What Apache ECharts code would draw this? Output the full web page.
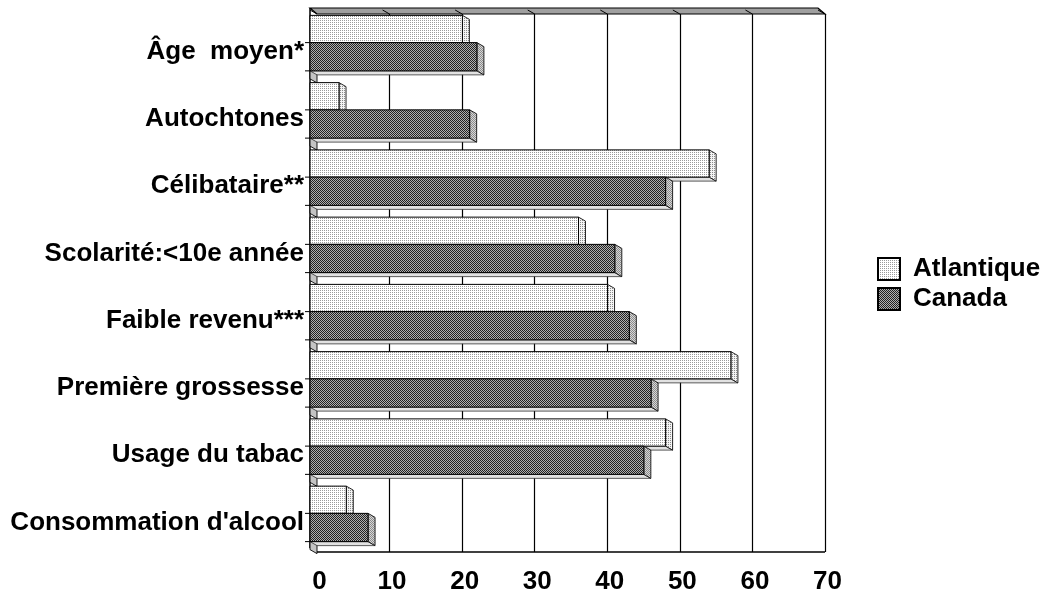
<!DOCTYPE html>
<html>
<head>
<meta charset="utf-8">
<script src="https://cdn.jsdelivr.net/npm/echarts@6/dist/echarts.min.js"></script>
<style>
html,body{margin:0;padding:0;background:#fff;}
#c{width:1042px;height:601px;}
</style>
</head>
<body>
<div id="c"></div>
<script>
// ---- data ----
const categories = ['Âge  moyen*', 'Autochtones', 'Célibataire**', 'Scolarité:<10e année', 'Faible revenu***', 'Première grossesse', 'Usage du tabac', "Consommation d'alcool"];
const atlantique = [21, 4, 55, 37, 41, 58, 49, 5];
const canada = [23, 22, 49, 42, 44, 47, 46, 8];
const seriesNames = ['Atlantique', 'Canada'];
const xMin = 0, xMax = 70, xStep = 10;

// ---- styles ----
const DX = 7, DY = 4;
const FONT = 'Liberation Sans, Arial, sans-serif';
function pattern(w, h, pix, bg) {
  const cv = document.createElement('canvas');
  cv.width = w; cv.height = h;
  const g = cv.getContext('2d');
  g.fillStyle = bg; g.fillRect(0, 0, w, h);
  pix.forEach(p => { g.fillStyle = p[2]; g.fillRect(p[0], p[1], 1, 1); });
  return { image: cv, repeat: 'repeat' };
}
const patAtl = pattern(2, 2, [[0, 0, '#9a9a9a']], '#ffffff');
const patAtlSide = pattern(2, 2, [[0, 0, '#8a8a8a']], '#f4f4f4');
const patCan = pattern(2, 2, [[0, 0, '#222222'], [1, 1, '#222222']], '#b0b0b0');
const patCanSide = pattern(2, 2, [[0, 0, '#8a8a8a'], [1, 1, '#8a8a8a']], '#d8d8d8');

function barRender(kind) {
  const front = kind === 0 ? patAtl : patCan;
  const side = kind === 0 ? patAtlSide : patCanSide;
  return function (params, api) {
    const v = api.value(0), ci = api.value(1);
    const c = api.coord([xMin, ci]);
    const e = api.coord([v, ci]);
    const h = api.size([0, 1])[1];
    const ft = c[1] - h / 2 - DY;
    const yt = ft + h * (kind === 0 ? 0.08 : 0.485);
    const yb = ft + h * (kind === 0 ? 0.485 : 0.905);
    const x0 = c[0] - DX, xe = e[0] - DX;
    return {
      type: 'group',
      children: [
        { type: 'polygon', shape: { points: [[x0, yb], [xe, yb], [xe + DX, yb + DY], [x0 + DX, yb + DY]] },
          style: { fill: '#e2e2e2', stroke: '#333', lineWidth: 0.8 } },
        { type: 'polygon', shape: { points: [[xe, yt], [xe + DX, yt + DY], [xe + DX, yb + DY], [xe, yb]] },
          style: { fill: side, stroke: '#111', lineWidth: 0.9 } },
        { type: 'rect', shape: { x: x0, y: yt, width: xe - x0, height: yb - yt },
          style: { fill: front, stroke: '#000', lineWidth: 1 } }
      ]
    };
  };
}

function frameRender(params, api) {
  const p0 = api.coord([xMin, 0]);
  const L = p0[0];
  const R = api.coord([xMax, 0])[0];
  const h = api.size([0, 1])[1];
  const T = p0[1] - h / 2;
  const B = T + h * categories.length;
  const ch = [];
  // top rim
  ch.push({ type: 'polygon', shape: { points: [[L - DX, T - 6], [R - DX, T - 6], [R, T], [L, T]] },
    style: { fill: '#a0a0a0', stroke: '#000', lineWidth: 1.2 } });
  for (let v = xMin; v <= xMax; v += xStep) {
    const x = api.coord([v, 0])[0];
    ch.push({ type: 'line', shape: { x1: x - DX, y1: T - 4, x2: x, y2: T }, style: { stroke: '#000', lineWidth: 1 } });
  }
  // floor line
  ch.push({ type: 'line', shape: { x1: L, y1: B, x2: R, y2: B }, style: { stroke: '#000', lineWidth: 1.5 } });
  // left front edge
  ch.push({ type: 'line', shape: { x1: L - DX, y1: T - 6, x2: L - DX, y2: B - DY }, style: { stroke: '#000', lineWidth: 1.5 } });
  // wall pieces + ticks per category
  for (let i = 0; i < categories.length; i++) {
    const ft = T + h * i - DY;
    const ym = ft + h * 0.485, yb = ft + h * 0.905;
    ch.push({ type: 'polygon', shape: { points: [[L - DX, yb - 1], [L, yb + 3], [L, yb + 12], [L - DX, yb + 8]] },
      style: { fill: '#c4c4c4', stroke: '#000', lineWidth: 0.9 } });
    ch.push({ type: 'line', shape: { x1: L - DX - 5, y1: ym, x2: L - DX, y2: ym }, style: { stroke: '#000', lineWidth: 1 } });
    ch.push({ type: 'line', shape: { x1: L - DX - 5, y1: yb, x2: L - DX, y2: yb }, style: { stroke: '#000', lineWidth: 1 } });
  }
  return { type: 'group', children: ch };
}

const splitColors = [];
for (let v = xMin; v <= xMax; v += xStep) splitColors.push(v === xMin ? 'rgba(0,0,0,0)' : '#000');

const chart = echarts.init(document.getElementById('c'), null, { renderer: 'canvas' });
chart.setOption({
  backgroundColor: '#ffffff',
  animation: false,
  grid: { left: 317, right: 217, top: 14, bottom: 49, containLabel: false },
  xAxis: {
    type: 'value', min: xMin, max: xMax, interval: xStep,
    axisLine: { show: false }, axisTick: { show: false },
    splitLine: { show: true, lineStyle: { color: splitColors, width: 1.2 } },
    axisLabel: { margin: 17, color: '#000', fontSize: 26, fontWeight: 'bold', fontFamily: FONT, padding: [0, 0, 0, 5] }
  },
  yAxis: {
    type: 'category', data: categories, inverse: true,
    axisLine: { show: false }, axisTick: { show: false },
    axisLabel: { margin: 13, color: '#000', fontSize: 26, fontWeight: 'bold', fontFamily: FONT,
      verticalAlign: 'top', lineHeight: 8 }
  },
  legend: {
    data: seriesNames, orient: 'vertical', left: 877, top: 256, padding: 0,
    icon: 'rect', itemWidth: 22, itemHeight: 22, itemGap: 4,
    textStyle: { fontSize: 26, fontWeight: 'bold', fontFamily: FONT, color: '#000', padding: [0, 0, 0, 8] },
    selectedMode: false
  },
  series: [
    { type: 'custom', name: '__frame', z: 1, silent: true, renderItem: frameRender, data: [[xMin, 0]], encode: { x: 0, y: 1 } },
    { type: 'custom', name: seriesNames[0], z: 2, renderItem: barRender(0),
      itemStyle: { color: patAtl, borderColor: '#000', borderWidth: 1 },
      data: atlantique.map((v, i) => [v, i]), encode: { x: 0, y: 1 } },
    { type: 'custom', name: seriesNames[1], z: 3, renderItem: barRender(1),
      itemStyle: { color: patCan, borderColor: '#000', borderWidth: 1 },
      data: canada.map((v, i) => [v, i]), encode: { x: 0, y: 1 } }
  ]
});
</script>
</body>
</html>
